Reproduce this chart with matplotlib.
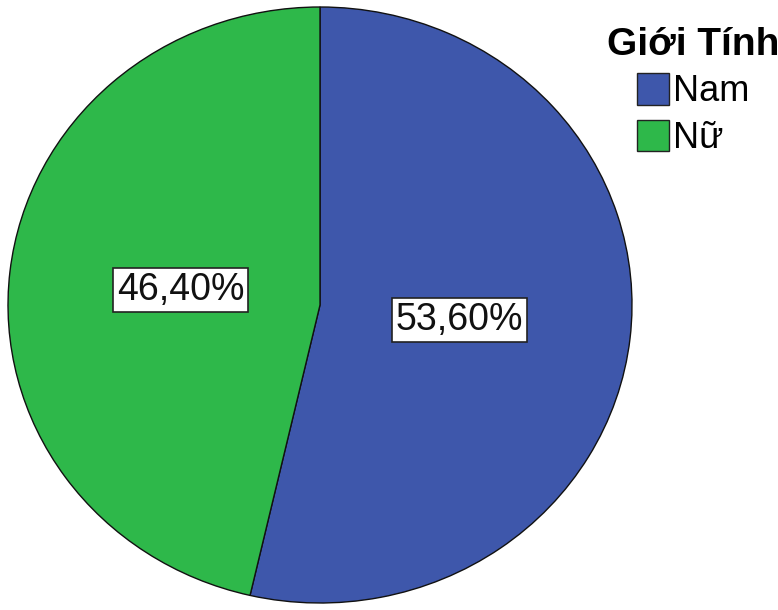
import numpy as np
import matplotlib.pyplot as plt
from matplotlib.patches import Patch

plt.rcParams['font.family'] = ['Liberation Sans', 'DejaVu Sans']

labels = ['Nam', 'Nữ']
percents = [53.6, 46.4]
colors = ['#3E57AB', '#2EB84A']
legend_title = 'Giới Tính'

fig = plt.figure(figsize=(7.78, 6.10), dpi=100)
ax = fig.add_axes([0, 0, 1, 1])

# slightly wider than tall, like the original export
rx, ry = 312, 298
cx, cy = 320, 305

wedges, texts, autotexts = ax.pie(
    percents, colors=colors, startangle=90, counterclock=False,
    autopct=lambda p: f'{p:.2f}%'.replace('.', ','), pctdistance=0.45,
    wedgeprops=dict(edgecolor='#111111', linewidth=1.0),
    textprops=dict(fontsize=27, color='#111111'),
    frame=True)
ax.axis('off')
ax.set_xlim(-cx / rx, (778 - cx) / rx)
ax.set_ylim(-(610 - cy) / ry, cy / ry)
ax.set_aspect('auto')

for t in autotexts:
    t.set_bbox(dict(facecolor='white', edgecolor='#222222', linewidth=1.2,
                    boxstyle='square,pad=0.1'))

handles = [Patch(facecolor=c, edgecolor='#222222', linewidth=1.0) for c in colors]
leg = fig.legend(handles, labels, title=legend_title, loc='upper right',
                 bbox_to_anchor=(1.02, 0.98), frameon=False, fontsize=26,
                 title_fontproperties=dict(size=28, weight='bold'),
                 handlelength=0.9, handleheight=0.95, handletextpad=0.1,
                 labelspacing=0.3, borderaxespad=0.0)

fig.savefig('out.png', dpi=100)
